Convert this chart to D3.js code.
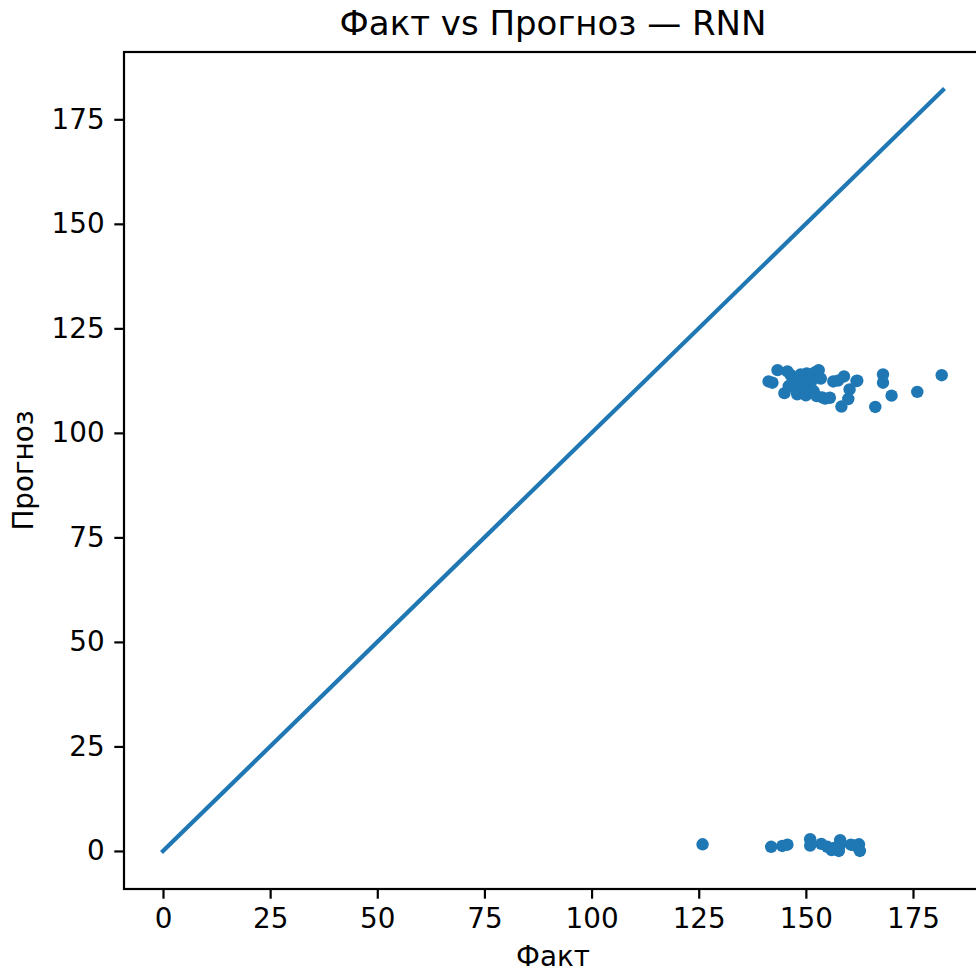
<!DOCTYPE html>
<html>
<head>
<meta charset="utf-8">
<script src="https://cdn.jsdelivr.net/npm/d3@7"></script>
<style>
  html, body { margin: 0; padding: 0; background: #fff; }
  svg { display: block; }
  text { font-family: "DejaVu Sans", sans-serif; fill: #000; }
</style>
</head>
<body>
<svg id="chart" width="976" height="974"></svg>
<script>
// ---- data ----
const titleText = "Факт vs Прогноз — RNN";
const xLabel = "Факт";
const yLabel = "Прогноз";
const xTicks = [0, 25, 50, 75, 100, 125, 150, 175];
const yTicks = [0, 25, 50, 75, 100, 125, 150, 175];
const diagLine = [[0, 0], [182, 182]];
const actual = [
  141.3, 142.2, 143.4, 145.7, 145.0, 146.5, 147.0, 147.5, 148.0, 148.5,
  149.0, 149.3, 149.8, 150.0, 150.5, 151.0, 151.4, 151.8, 152.2, 152.5,
  153.0, 153.5, 154.5, 155.6, 156.4, 157.5, 158.9, 158.3, 160.2, 161.8,
  159.9, 162.0, 166.2, 168.0, 168.0, 170.0, 176.0, 181.7, 146.0, 148.2,
  149.5, 150.8, 147.8, 153.8, 150.2, 148.8,
  125.9, 141.9, 144.5, 145.7, 151.0, 151.0, 153.6, 155.0, 156.0, 158.0,
  157.8, 157.7, 160.5, 162.4, 162.6, 156.8, 161.5
];
const predicted = [
  112.3, 112.0, 115.0, 114.7, 109.5, 113.8, 112.5, 111.0, 109.2, 113.0,
  110.5, 112.0, 113.5, 109.0, 111.3, 114.0, 112.5, 110.0, 114.5, 108.8,
  115.0, 113.0, 108.2, 108.4, 112.3, 112.5, 113.5, 106.3, 110.4, 112.4,
  108.1, 112.5, 106.2, 114.0, 112.0, 108.9, 109.8, 113.8, 111.2, 111.8,
  109.8, 112.8, 110.0, 108.5, 114.2, 114.0,
  1.6, 1.0, 1.2, 1.5, 2.8, 1.3, 1.7, 1.0, 0.2, 2.6,
  1.2, 0.0, 1.5, 1.6, 0.0, 0.8, 1.3
];

// ---- chart ----
(function () {
  const svg = d3.select("#chart");
  const blue = "#1f77b4";
  const mL = 124, mR = 982, mT = 52, mB = 889;
  const tickFont = "27.8px", labelFont = "27.8px", titleFont = "34px";
  const x = d3.scaleLinear().domain([-9.1, 191.1]).range([mL, mR]);
  const y = d3.scaleLinear().domain([-9.1, 191.1]).range([mB, mT]);

  svg.append("defs").append("clipPath").attr("id", "plotclip")
    .append("rect").attr("x", mL).attr("y", mT)
    .attr("width", mR - mL).attr("height", mB - mT);

  const plot = svg.append("g").attr("clip-path", "url(#plotclip)");

  const pts = actual.map((a, i) => ({a, p: predicted[i]}));
  plot.selectAll("circle").data(pts).enter().append("circle")
    .attr("cx", d => x(d.a)).attr("cy", d => y(d.p))
    .attr("r", 6.2).attr("fill", blue);

  plot.append("path").datum(diagLine)
    .attr("d", d3.line().x(d => x(d[0])).y(d => y(d[1])))
    .attr("fill", "none").attr("stroke", blue).attr("stroke-width", 4.2)
    .attr("stroke-linecap", "square");

  const xAxis = svg.append("g").attr("transform", `translate(0,${mB})`)
    .call(d3.axisBottom(x).tickValues(xTicks).tickSize(9.7).tickPadding(9.7).tickFormat(d3.format("d")));
  const yAxis = svg.append("g").attr("transform", `translate(${mL},0)`)
    .call(d3.axisLeft(y).tickValues(yTicks).tickSize(9.7).tickPadding(9.7).tickFormat(d3.format("d")));
  [xAxis, yAxis].forEach(g => {
    g.selectAll("text").attr("font-size", tickFont).attr("font-family", "DejaVu Sans, sans-serif").attr("fill", "#000");
    g.selectAll("line").attr("stroke", "#000").attr("stroke-width", 2.2);
    g.select(".domain").remove();
  });

  svg.append("rect").attr("x", mL).attr("y", mT).attr("width", mR - mL).attr("height", mB - mT)
    .attr("fill", "none").attr("stroke", "#000").attr("stroke-width", 2.2);

  svg.append("text").attr("x", (mL + mR) / 2).attr("y", 35)
    .attr("text-anchor", "middle").attr("font-size", titleFont).text(titleText);
  svg.append("text").attr("x", (mL + mR) / 2).attr("y", 966)
    .attr("text-anchor", "middle").attr("font-size", labelFont).text(xLabel);
  svg.append("text").attr("transform", `translate(33,${(mT + mB) / 2}) rotate(-90)`)
    .attr("text-anchor", "middle").attr("font-size", labelFont).text(yLabel);
})();
</script>
</body>
</html>
